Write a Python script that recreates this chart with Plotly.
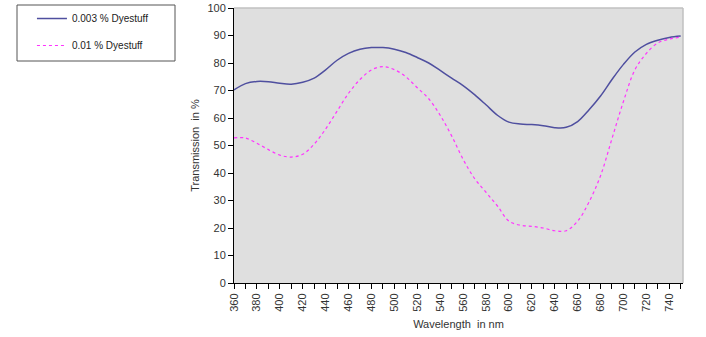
import plotly.graph_objects as go

wavelength = [360, 370, 380, 390, 400, 410, 420, 430, 440, 450, 460, 470, 480, 490, 500,
              510, 520, 530, 540, 550, 560, 570, 580, 590, 600, 610, 620, 630, 640, 650,
              660, 670, 680, 690, 700, 710, 720, 730, 740, 750]
dye_0003 = [70.2, 72.5, 73.3, 73.2, 72.6, 72.3, 73.0, 74.5, 77.5, 81.0, 83.5, 85.0, 85.6, 85.6, 85.0,
            83.8, 82.0, 80.0, 77.3, 74.5, 71.8, 68.5, 64.8, 61.0, 58.5, 57.8, 57.6, 57.2, 56.5, 56.6,
            58.7, 63.0, 68.0, 74.0, 79.5, 84.0, 86.8, 88.3, 89.3, 89.8]
dye_001 = [52.8, 52.7, 50.8, 48.5, 46.5, 45.8, 46.8, 50.5, 56.0, 62.5, 69.0, 74.0, 77.5, 78.7, 77.6,
           75.0, 71.0, 67.0, 61.0, 53.5, 45.0, 38.0, 33.0, 28.0, 22.5, 21.0, 20.6, 20.0, 19.0, 19.0,
           22.5, 29.5, 39.0, 52.5, 66.0, 77.5, 83.5, 87.3, 88.7, 89.4]
series_names = ["0.003 % Dyestuff", "0.01 % Dyestuff"]
x_ticks = list(range(360, 741, 20))
y_ticks = list(range(0, 101, 10))

fig = go.Figure()
fig.add_trace(go.Scatter(x=wavelength, y=dye_0003, mode="lines", name=series_names[0],
                         line=dict(color="#4f4f9f", width=1.5, shape="spline"), legendgroup="a"))
fig.add_trace(go.Scatter(x=wavelength, y=dye_001, mode="lines", name=series_names[1],
                         line=dict(color="#ff33ff", width=1.2, dash="dot", shape="spline"), legendgroup="b"))

fig.update_layout(
    width=706, height=337,
    margin=dict(l=234, r=23, t=8, b=54, autoexpand=False),
    paper_bgcolor="white", plot_bgcolor="#dfdfdf",
    font=dict(family="Liberation Sans, Arial", size=11, color="#333333"),
    showlegend=True,
    legend=dict(x=-0.45, y=1.0145, xanchor="left", yanchor="top",
                borderwidth=0, bgcolor="rgba(0,0,0,0)",
                font=dict(size=10, color="#222222"), tracegroupgap=8,
                itemwidth=30),
    xaxis=dict(range=[360, 752], tickvals=x_ticks, ticktext=[str(v) for v in x_ticks],
               tickangle=-90, ticks="outside", ticklen=5, tickcolor="black",
               showline=True, linecolor="black", linewidth=1, mirror=False,
               showgrid=False, zeroline=False,
               minor=dict(dtick=10, tick0=360, ticks="outside", ticklen=5, tickcolor="black"),
               title=dict(text="Wavelength  in nm", font=dict(size=11, color="#333333"), standoff=9),
               tickfont=dict(size=11, color="#333333")),
    yaxis=dict(range=[0, 100], tickvals=y_ticks, ticks="outside", ticklen=5, tickcolor="black",
               showline=True, linecolor="black", linewidth=1, showgrid=False, zeroline=False,
               title=dict(text="Transmission  in %", font=dict(size=11, color="#333333"), standoff=5),
               tickfont=dict(size=11, color="#333333")),
)
# light grey frame on top and right of plot area
fig.add_shape(type="line", xref="paper", yref="paper", x0=0, x1=1, y0=1, y1=1,
              line=dict(color="#c0c0c0", width=1.5))
fig.add_shape(type="line", xref="paper", yref="paper", x0=1, x1=1, y0=0, y1=1,
              line=dict(color="#c0c0c0", width=1.5))
# legend frame (pixel positions converted to paper coords)
px_l, px_r, px_t, px_b = 234, 683, 8, 283
def px_to_paper_x(p):
    return (p - px_l) / (px_r - px_l)
def px_to_paper_y(p):
    return (px_b - p) / (px_b - px_t)
fig.add_shape(type="rect", xref="paper", yref="paper",
              x0=px_to_paper_x(17), x1=px_to_paper_x(175),
              y0=px_to_paper_y(61), y1=px_to_paper_y(5),
              line=dict(color="#555555", width=1), fillcolor="rgba(0,0,0,0)", layer="below")

fig.write_html("out.html")
